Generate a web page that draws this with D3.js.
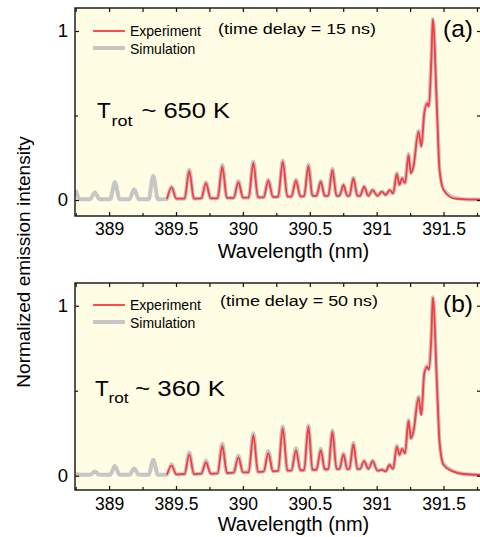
<!DOCTYPE html>
<html>
<head>
<meta charset="utf-8">
<script src="https://cdn.jsdelivr.net/npm/d3@7"></script>
<style>
  body { margin: 0; background: #fff; }
  svg { display: block; font-family: Arial, "Liberation Sans", sans-serif; }
</style>
</head>
<body>
<svg id="chart"></svg>
<script>
// wavelength samples (nm), shared by both panels: line centres plus the baseline around them
const wavelength = [
  388.75, 388.785, 388.858, 388.893, 388.928, 389.008, 389.043, 389.078, 389.152, 389.187,
  389.222, 389.295, 389.33, 389.365, 389.432, 389.467, 389.502, 389.564, 389.599, 389.634,
  389.689, 389.724, 389.759, 389.811, 389.846, 389.881, 389.931, 389.966, 390.001, 390.043,
  390.078, 390.113, 390.155, 390.19, 390.225, 390.263, 390.298, 390.333, 390.362, 390.397,
  390.43, 390.457, 390.49, 390.52, 390.55, 390.582, 390.612, 390.638, 390.669, 390.70,
  390.722, 390.752, 390.78, 390.796, 390.826, 390.856, 390.876, 390.906, 390.938, 390.97,
  391.005, 391.039, 391.068, 391.096, 391.123, 391.151, 391.17, 391.19, 391.212, 391.238,
  391.256, 391.275, 391.313, 391.334, 391.356, 391.38, 391.39, 391.409, 391.42, 391.451,
  391.47, 391.5, 391.575, 391.65, 391.8
];

// panel (a), time delay 15 ns
const simA = [
  0.06, 0.005, 0.005, 0.045, 0.005, 0.005, 0.105, 0.005, 0.005, 0.063,
  0.005, 0.005, 0.142, 0.005, 0.006, 0.08, 0.008, 0.008, 0.18, 0.008,
  0.01, 0.105, 0.01, 0.01, 0.207, 0.012, 0.012, 0.112, 0.014, 0.014,
  0.228, 0.016, 0.016, 0.12, 0.018, 0.018, 0.233, 0.02, 0.02, 0.12,
  0.022, 0.022, 0.21, 0.025, 0.025, 0.112, 0.025, 0.025, 0.185, 0.025,
  0.025, 0.092, 0.025, 0.025, 0.132, 0.025, 0.025, 0.08, 0.025, 0.06,
  0.025, 0.05, 0.03, 0.06, 0.04, 0.158, 0.09, 0.132, 0.1, 0.272,
  0.16, 0.2, 0.41, 0.32, 0.52, 0.58, 0.56, 0.85, 1.07, 0.54,
  0.18, 0.065, 0.015, 0.005, 0.002
];
const expA = [
  null, null, null, null, null, null, null, null, null, null,
  null, null, null, null, 0.006, 0.075, 0.008, 0.008, 0.172, 0.008,
  0.01, 0.099, 0.01, 0.01, 0.197, 0.012, 0.012, 0.105, 0.014, 0.014,
  0.221, 0.016, 0.016, 0.114, 0.018, 0.018, 0.227, 0.02, 0.02, 0.114,
  0.022, 0.022, 0.202, 0.025, 0.025, 0.108, 0.025, 0.025, 0.178, 0.025,
  0.025, 0.089, 0.025, 0.025, 0.128, 0.025, 0.025, 0.079, 0.025, 0.059,
  0.025, 0.049, 0.03, 0.059, 0.04, 0.154, 0.09, 0.128, 0.1, 0.266,
  0.158, 0.197, 0.404, 0.315, 0.513, 0.572, 0.55, 0.83, 1.07, 0.53,
  0.178, 0.06, 0.01, 0.005, 0.002
];

// panel (b), time delay 50 ns
const simB = [
  0.012, 0.005, 0.005, 0.024, 0.005, 0.005, 0.057, 0.005, 0.005, 0.043,
  0.005, 0.005, 0.092, 0.005, 0.006, 0.067, 0.008, 0.01, 0.137, 0.01,
  0.012, 0.089, 0.012, 0.014, 0.19, 0.016, 0.018, 0.118, 0.02, 0.02,
  0.249, 0.022, 0.024, 0.145, 0.026, 0.028, 0.289, 0.03, 0.03, 0.161,
  0.032, 0.032, 0.295, 0.035, 0.035, 0.158, 0.038, 0.038, 0.268, 0.04,
  0.04, 0.13, 0.04, 0.04, 0.192, 0.04, 0.04, 0.09, 0.04, 0.09,
  0.03, 0.036, 0.026, 0.066, 0.04, 0.176, 0.122, 0.16, 0.132, 0.328,
  0.22, 0.262, 0.465, 0.362, 0.608, 0.648, 0.63, 0.83, 1.05, 0.54,
  0.2, 0.068, 0.026, 0.01, 0.004
];
const expB = [
  null, null, null, null, null, null, null, null, null, null,
  null, null, null, null, 0.006, 0.059, 0.008, 0.01, 0.126, 0.01,
  0.012, 0.079, 0.012, 0.014, 0.177, 0.016, 0.018, 0.108, 0.02, 0.02,
  0.239, 0.022, 0.024, 0.132, 0.026, 0.028, 0.279, 0.03, 0.03, 0.151,
  0.032, 0.032, 0.288, 0.035, 0.035, 0.151, 0.038, 0.038, 0.259, 0.04,
  0.04, 0.126, 0.04, 0.04, 0.185, 0.04, 0.04, 0.086, 0.04, 0.086,
  0.03, 0.034, 0.026, 0.063, 0.04, 0.171, 0.122, 0.157, 0.132, 0.322,
  0.22, 0.259, 0.459, 0.357, 0.602, 0.641, 0.62, 0.82, 1.047, 0.534,
  0.2, 0.063, 0.024, 0.01, 0.004
];

const xMajor = [389, 389.5, 390, 390.5, 391, 391.5];
const xMinor = [388.75, 389.25, 389.75, 390.25, 390.75, 391.25, 391.75];
const yMajor = [0, 1];
const yMinor = [0.5];

const panelTags = ["(a)", "(b)"];
const delayLabels = ["(time delay = 15 ns)", "(time delay = 50 ns)"];
const tempLabels = ["~ 650 K", "~ 360 K"];
const legendNames = ["Experiment", "Simulation"];

const width = 480, height = 537;
const left = 75, right = 481;
const red = "#ff3838", grey = "#c6c6c6", ink = "#000";

// per-panel placement
const layout = [
  { top: 8, bottom: 216, y0: 200, y1: 31, pad: 7, title: 258, leg: 31, delay: 33.5, delayX: 218, tag: 37,
    tX: 97, tY: 118, subX: 111.5, subY: 126, subW: 21, restX: 141.5, restW: 88.5 },
  { top: 283, bottom: 490, y0: 475.7, y1: 305.7, pad: 8, title: 531, leg: 305, delay: 306, delayX: 220, tag: 312,
    tX: 95, tY: 396, subX: 108.5, subY: 403, subW: 20, restX: 135, restW: 90 }
];

const svg = d3.select("#chart").attr("width", width).attr("height", height);

const x = d3.scaleLinear().domain([388.745, 391.78]).range([left, right]);

const series = [[expA, simA], [expB, simB]];

layout.forEach((L, i) => {
  const y = d3.scaleLinear().domain([0, 1]).range([L.y0, L.y1]);
  const g = svg.append("g");

  // plot background
  g.append("rect")
    .attr("x", left).attr("y", L.top)
    .attr("width", right - left).attr("height", L.bottom - L.top)
    .attr("fill", "#fffde3");

  g.append("clipPath").attr("id", "clip" + i)
    .append("rect")
    .attr("x", left).attr("y", L.top)
    .attr("width", right - left).attr("height", L.bottom - L.top);

  const line = vals => d3.line()
    .defined((d, k) => vals[k] != null)
    .x(d => x(d))
    .y((d, k) => y(vals[k]))
    .curve(d3.curveMonotoneX)(wavelength);

  const [expVals, simVals] = series[i];
  const plot = g.append("g").attr("clip-path", `url(#clip${i})`);
  plot.append("path").attr("d", line(simVals))
    .attr("fill", "none").attr("stroke", grey).attr("stroke-width", 4)
    .attr("stroke-linejoin", "round");
  plot.append("path").attr("d", line(expVals))
    .attr("fill", "none").attr("stroke", red).attr("stroke-width", 1.8)
    .attr("stroke-linejoin", "round");

  // axes: inward ticks on all four sides
  const styleAxis = sel => {
    sel.select(".domain").remove();
    sel.selectAll("line").attr("stroke", "#111").attr("stroke-width", 1.2);
    sel.selectAll("text").attr("fill", ink).style("font-size", "17.5px")
      .style("font-family", "Arial, 'Liberation Sans', sans-serif");
  };

  g.append("g").attr("transform", `translate(0,${L.bottom})`)
    .call(d3.axisBottom(x).tickValues(xMajor).tickFormat(d3.format("")).tickSizeInner(-4).tickSizeOuter(0).tickPadding(L.pad))
    .call(styleAxis);
  g.append("g").attr("transform", `translate(0,${L.bottom})`)
    .call(d3.axisBottom(x).tickValues(xMinor).tickFormat("").tickSizeInner(-3).tickSizeOuter(0))
    .call(styleAxis);
  g.append("g").attr("transform", `translate(0,${L.top})`)
    .call(d3.axisTop(x).tickValues(xMajor.concat(xMinor)).tickFormat("").tickSizeInner(-4).tickSizeOuter(0))
    .call(styleAxis);

  g.append("g").attr("transform", `translate(${left},0)`)
    .call(d3.axisLeft(y).tickValues(yMajor).tickFormat(d3.format("d")).tickSizeInner(-4).tickSizeOuter(0).tickPadding(7))
    .call(styleAxis)
    .selectAll("text").style("font-size", "18.5px");
  g.append("g").attr("transform", `translate(${left},0)`)
    .call(d3.axisLeft(y).tickValues(yMinor).tickFormat("").tickSizeInner(-3).tickSizeOuter(0))
    .call(styleAxis);
  g.append("g").attr("transform", `translate(${right},0)`)
    .call(d3.axisRight(y).tickValues(yMajor.concat(yMinor)).tickFormat("").tickSizeInner(-4).tickSizeOuter(0))
    .call(styleAxis);

  // frame
  g.append("rect")
    .attr("x", left).attr("y", L.top)
    .attr("width", right - left).attr("height", L.bottom - L.top)
    .attr("fill", "none").attr("stroke", "#111").attr("stroke-width", 1.4);

  // legend
  const leg = g.append("g").attr("transform", `translate(0,${L.leg})`);
  leg.append("line").attr("x1", 93).attr("x2", 125).attr("y1", 0).attr("y2", 0)
    .attr("stroke", red).attr("stroke-width", 1.8);
  leg.append("line").attr("x1", 93).attr("x2", 125).attr("y1", 17).attr("y2", 17)
    .attr("stroke", grey).attr("stroke-width", 4);
  leg.selectAll("text").data(legendNames).enter().append("text")
    .attr("x", 130).attr("y", (d, k) => k === 0 ? 5 : 22.5)
    .style("font-size", "14px").attr("fill", ink)
    .text(d => d);

  g.append("text").attr("x", L.delayX).attr("y", L.delay)
    .style("font-size", "15.5px").attr("fill", ink)
    .attr("textLength", 158).attr("lengthAdjust", "spacingAndGlyphs")
    .text(delayLabels[i]);

  g.append("text").attr("x", 443).attr("y", L.tag)
    .style("font-size", "24px").attr("fill", ink)
    .attr("textLength", 30).attr("lengthAdjust", "spacingAndGlyphs")
    .text(panelTags[i]);

  // T_rot annotation
  g.append("text").attr("x", L.tX).attr("y", L.tY)
    .style("font-size", "22.5px").attr("fill", ink).text("T");
  g.append("text").attr("x", L.subX).attr("y", L.subY)
    .style("font-size", "15px").attr("fill", ink)
    .attr("textLength", L.subW).attr("lengthAdjust", "spacingAndGlyphs").text("rot");
  g.append("text").attr("x", L.restX).attr("y", L.tY)
    .style("font-size", "22.5px").attr("fill", ink)
    .attr("textLength", L.restW).attr("lengthAdjust", "spacingAndGlyphs").text(tempLabels[i]);

  // x axis title
  g.append("text").attr("x", 293.5).attr("y", L.title)
    .attr("text-anchor", "middle").style("font-size", "20px").attr("fill", ink)
    .text("Wavelength (nm)");
});

// shared y axis title
svg.append("text")
  .attr("transform", "translate(30,262) rotate(-90)")
  .attr("text-anchor", "middle").style("font-size", "19px").attr("fill", ink)
  .text("Normalized emission intensity");
</script>
</body>
</html>
